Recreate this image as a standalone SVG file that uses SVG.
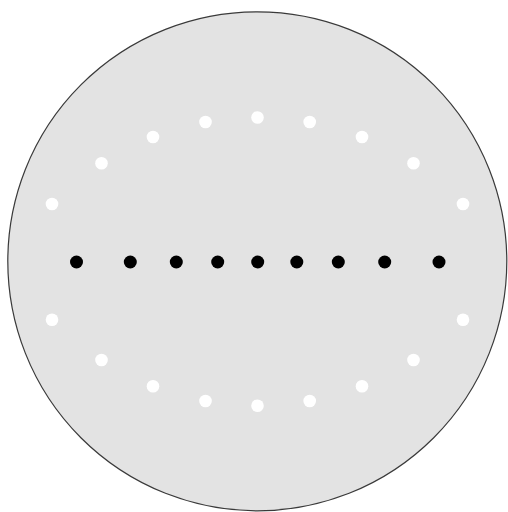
<svg xmlns="http://www.w3.org/2000/svg" width="508" height="512" viewBox="0 0 508 512">
<style>
.disk{fill:#e3e3e3;stroke:#3a3a3a;stroke-width:1.2}
.w{fill:#ffffff}
.b{fill:#000000}
</style>
<rect width="508" height="512" fill="#ffffff"/>
<g id="disk"><circle class="disk" cx="257.3" cy="261.3" r="249.5"/></g>
<g id="ring">
<circle class="w" cx="257.5" cy="117.5" r="6.3"/>
<circle class="w" cx="205.5" cy="122" r="6.3"/>
<circle class="w" cx="309.7" cy="122" r="6.3"/>
<circle class="w" cx="153" cy="137" r="6.3"/>
<circle class="w" cx="362" cy="137" r="6.3"/>
<circle class="w" cx="101.5" cy="163.3" r="6.3"/>
<circle class="w" cx="413.5" cy="163.3" r="6.3"/>
<circle class="w" cx="52" cy="204" r="6.3"/>
<circle class="w" cx="463" cy="204" r="6.3"/>
<circle class="w" cx="52" cy="319.7" r="6.3"/>
<circle class="w" cx="463" cy="319.7" r="6.3"/>
<circle class="w" cx="101.5" cy="360" r="6.3"/>
<circle class="w" cx="413.5" cy="360" r="6.3"/>
<circle class="w" cx="153" cy="386.3" r="6.3"/>
<circle class="w" cx="362" cy="386.3" r="6.3"/>
<circle class="w" cx="205.5" cy="401" r="6.3"/>
<circle class="w" cx="309.7" cy="401" r="6.3"/>
<circle class="w" cx="257.5" cy="405.7" r="6.3"/>
</g>
<g id="row">
<circle class="b" cx="76.5" cy="262" r="6.5"/>
<circle class="b" cx="130.3" cy="262" r="6.5"/>
<circle class="b" cx="176.3" cy="262" r="6.5"/>
<circle class="b" cx="217.7" cy="262" r="6.5"/>
<circle class="b" cx="257.7" cy="262" r="6.5"/>
<circle class="b" cx="296.8" cy="262" r="6.5"/>
<circle class="b" cx="338.3" cy="262" r="6.5"/>
<circle class="b" cx="384.7" cy="262" r="6.5"/>
<circle class="b" cx="439" cy="262" r="6.5"/>
</g>
</svg>
